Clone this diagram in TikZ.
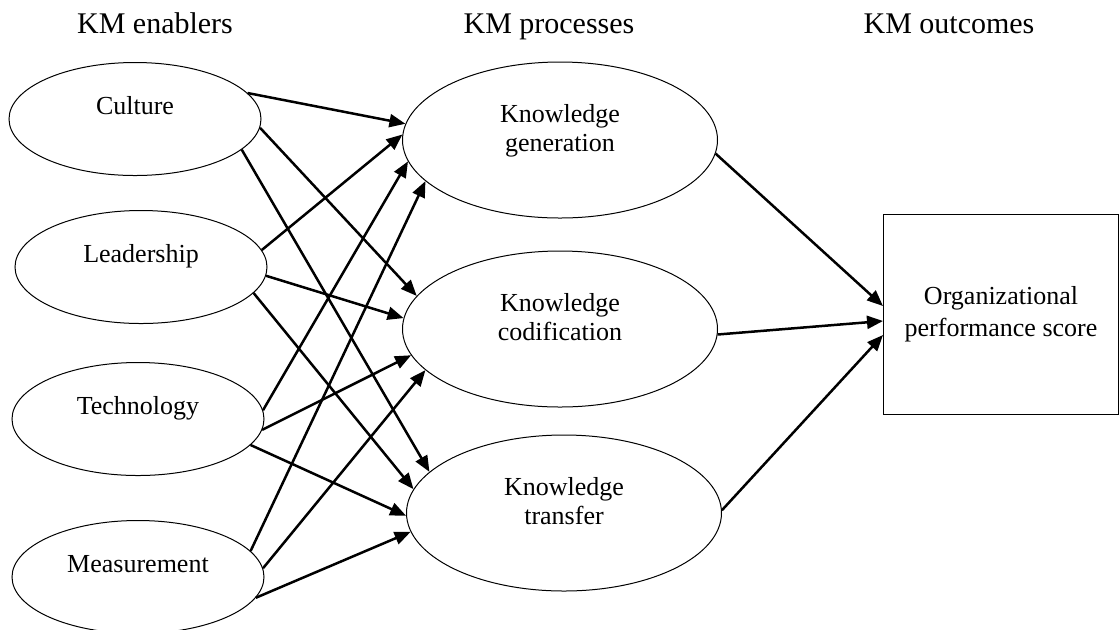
\documentclass[tikz,border=0pt]{standalone}
\usepackage{fontspec}
\setmainfont{Liberation Serif}
\usetikzlibrary{arrows.meta,positioning,shapes.geometric}

\begin{document}
\begin{tikzpicture}[
  x=1pt, y=1pt,
  enabler/.style={draw, ellipse, line width=0.5pt, inner sep=0pt, minimum width=126pt, minimum height=56.5pt, font=\fontsize{13}{14.5}\selectfont, text height=9pt, text depth=14pt},
  process/.style={draw, ellipse, line width=0.5pt, inner sep=0pt, minimum width=157.5pt, minimum height=78pt, align=center, font=\fontsize{13}{14.5}\selectfont, text depth=12pt},
  outcome/.style={draw, rectangle, line width=0.5pt, minimum width=117.5pt, minimum height=100pt, align=center, font=\fontsize{13}{16}\selectfont},
  head/.style={anchor=base, font=\fontsize{15}{18}\selectfont},
  arr/.style={-{Triangle[length=8pt, width=6.5pt]}, line width=1.25pt}
]
\useasboundingbox (0,0) rectangle (560,-314.5);
% column headings
\node[head] (hen) at (77.5,-16.5) {KM enablers};
\node[head] (hpr) at (274.5,-16.5) {KM processes};
\node[head] (hou) at (474.5,-16.5) {KM outcomes};
% enablers
\node[enabler] (cult) at (67.5,-59.5) {Culture};
\node[enabler, below=17pt of cult, xshift=3pt] (lead) {Leadership};
\node[enabler, below=19pt of lead, xshift=-1.5pt] (tech) {Technology};
\node[enabler, below=22pt of tech] (meas) {Measurement};
% processes
\node[process] (gen) at (280,-70) {Knowledge\\generation};
\node[process, below=16pt of gen] (cod) {Knowledge\\codification};
\node[process, below=13.5pt of cod, xshift=2pt] (tra) {Knowledge\\transfer};
% outcome
\node[outcome] (ops) at (500.5,-157) {Organizational\\performance score};
% enablers -> processes
\draw[arr] (cult.13) -- (gen.174);
\draw[arr] (cult.-4) -- (cod.167);
\draw[arr] (cult.-16) -- (tra.163);
\draw[arr] (lead.8) -- (gen.178);
\draw[arr] (lead.-4.5) -- (cod.176);
\draw[arr] (lead.-13) -- (tra.171);
\draw[arr] (tech.4) -- (gen.188.5);
\draw[arr] (tech.-5) -- (cod.190);
\draw[arr] (tech.-13) -- (tra.181.5);
\draw[arr] (meas.13) -- (gen.197);
\draw[arr] (meas.4.5) -- (cod.197);
\draw[arr] (meas.-10) -- (tra.187);
% processes -> outcome
\draw[arr] (gen.-5) -- ([yshift=4pt]ops.west);
\draw[arr] (cod.-2) -- ([yshift=-3.5pt]ops.west);
\draw[arr] (tra.1) -- ([yshift=-10.5pt]ops.west);
\end{tikzpicture}
\end{document}
